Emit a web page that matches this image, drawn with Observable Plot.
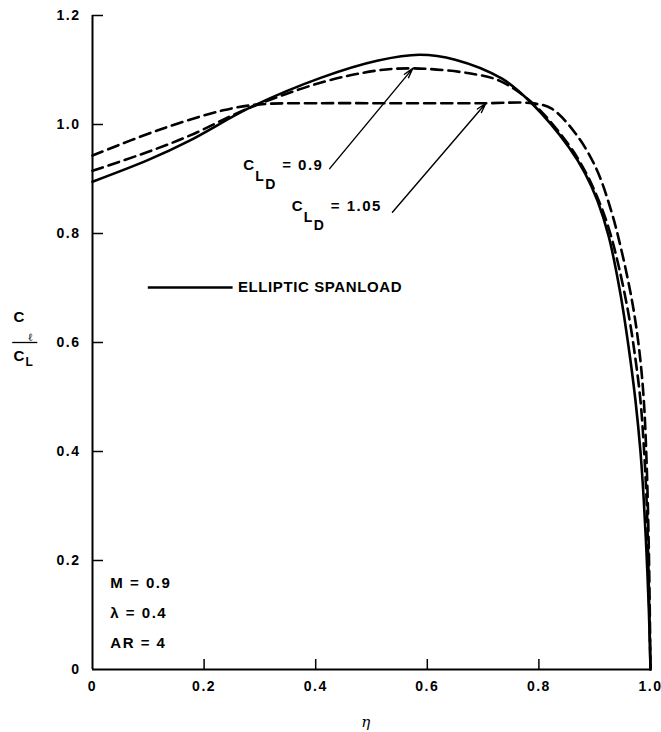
<!DOCTYPE html>
<html><head><meta charset="utf-8">
<script src="https://cdn.jsdelivr.net/npm/d3@7"></script>
<script src="https://cdn.jsdelivr.net/npm/@observablehq/plot@0.6"></script>
<style>
body{margin:0;background:#fff;}
#chart svg{display:block;}
#chart svg text{letter-spacing:1.5px;}
</style>
</head><body><div id="chart"></div>
<script>
// Elliptic spanload (solid)
const etaElliptic = [0, 0.1, 0.175, 0.282, 0.41, 0.51, 0.586, 0.65, 0.734, 0.788, 0.854, 0.883, 0.905, 0.925, 0.946, 0.961, 0.973, 0.982, 0.988, 0.993, 0.997, 1.0];
const cElliptic   = [0.895, 0.935, 0.971, 1.031, 1.086, 1.117, 1.128, 1.119, 1.084, 1.038, 0.958, 0.91, 0.86, 0.795, 0.69, 0.59, 0.494, 0.40, 0.31, 0.21, 0.11, 0];
// C_LD = 0.9 (dashed, lower)
const eta09 = [0, 0.1, 0.175, 0.28, 0.41, 0.51, 0.574, 0.675, 0.73, 0.79, 0.854, 0.885, 0.907, 0.925, 0.943, 0.961, 0.973, 0.982, 0.988, 0.993, 0.996, 0.998, 1.0];
const c09   = [0.915, 0.95, 0.98, 1.03, 1.077, 1.099, 1.103, 1.094, 1.08, 1.038, 0.962, 0.91, 0.861, 0.81, 0.74, 0.65, 0.57, 0.494, 0.41, 0.31, 0.2, 0.1, 0];
// C_LD = 1.05 (dashed, flat top)
const eta105 = [0, 0.116, 0.234, 0.3, 0.4, 0.55, 0.7, 0.788, 0.823, 0.866, 0.902, 0.93, 0.95, 0.968, 0.98, 0.988, 0.993, 0.997, 1.0];
const c105   = [0.943, 0.989, 1.026, 1.037, 1.039, 1.039, 1.039, 1.039, 1.029, 0.983, 0.921, 0.84, 0.76, 0.67, 0.585, 0.494, 0.38, 0.22, 0];

const xTicks = [0, 0.2, 0.4, 0.6, 0.8, 1.0];
const xTickLabels = ["0", "0.2", "0.4", "0.6", "0.8", "1.0"];
const yTicks = [0, 0.2, 0.4, 0.6, 0.8, 1.0, 1.2];
const yTickLabels = ["0", "0.2", "0.4", "0.6", "0.8", "1.0", "1.2"];

// annotations (data units)
const cldLabels = [
  {eta: 0.27, c: 0.917, value: "= 0.9"},
  {eta: 0.357, c: 0.842, value: "= 1.05"}
];
const arrows = [
  {x1: 0.425, y1: 0.919, x2: 0.574, y2: 1.103},
  {x1: 0.5375, y1: 0.839, x2: 0.705, y2: 1.039}
];
const legendLine = [{x1: 0.10, x2: 0.252, y: 0.701}];
const legendText = [{x: 0.2607, y: 0.701, text: "ELLIPTIC SPANLOAD"}];
const params = [
  {x: 0.032, y: 0.158, text: "M = 0.9"},
  {x: 0.032, y: 0.103, text: "λ = 0.4"},
  {x: 0.032, y: 0.048, text: "AR = 4"}
];
const fractionBar = [{x1: -0.143, x2: -0.098, y: 0.6}];

const toRows = (xs, ys) => xs.map((x, i) => ({eta: x, c: ys[i]}));
const font = "Liberation Sans, Arial, Helvetica, sans-serif";
const dash = "11,6";

const chart = Plot.plot({
  width: 661,
  height: 732,
  marginLeft: 92,
  marginRight: 11,
  marginTop: 15,
  marginBottom: 63,
  x: {domain: [0, 1]},
  y: {domain: [0, 1.2]},
  style: {fontFamily: font, fontSize: "14px", fontWeight: "bold", color: "#000", background: "#fff"},
  marks: [
    Plot.axisX(xTicks, {tickSize: 0, tickPadding: 12, label: null, fontSize: 14, fontWeight: "bold",
      tickFormat: d => xTickLabels[xTicks.indexOf(d)]}),
    Plot.axisY(yTicks, {tickSize: 0, tickPadding: 12, label: null, fontSize: 14, fontWeight: "bold",
      tickFormat: d => yTickLabels[yTicks.indexOf(d)]}),
    Plot.ruleX([0], {stroke: "#000", strokeWidth: 2}),
    Plot.ruleY([0], {stroke: "#000", strokeWidth: 2}),
    Plot.ruleX(xTicks.slice(1), {x: d => d, y1: 0, y2: 0, insetTop: -10, stroke: "#000", strokeWidth: 1.5}),
    Plot.ruleY(yTicks.slice(1), {y: d => d, x1: 0, x2: 0, insetRight: -11, stroke: "#000", strokeWidth: 1.5}),
    // curves
    Plot.line(toRows(etaElliptic, cElliptic), {x: "eta", y: "c", curve: "catmull-rom", stroke: "#000", strokeWidth: 2.6}),
    Plot.line(toRows(eta09, c09), {x: "eta", y: "c", curve: "catmull-rom", stroke: "#000", strokeWidth: 2.6, strokeDasharray: dash}),
    Plot.line(toRows(eta105, c105), {x: "eta", y: "c", curve: "catmull-rom", stroke: "#000", strokeWidth: 2.6, strokeDasharray: dash}),
    // arrows
    Plot.arrow(arrows, {x1: "x1", y1: "y1", x2: "x2", y2: "y2", stroke: "#000", strokeWidth: 1.4, headLength: 11, headAngle: 30}),
    // C_LD labels
    Plot.text(cldLabels, {x: "eta", y: "c", text: () => "C", textAnchor: "start", lineAnchor: "bottom", fontSize: 15, fontWeight: "bold"}),
    Plot.text(cldLabels, {x: "eta", y: "c", text: () => "L", dx: 12, dy: 11, textAnchor: "start", lineAnchor: "bottom", fontSize: 14, fontWeight: "bold"}),
    Plot.text(cldLabels, {x: "eta", y: "c", text: () => "D", dx: 22, dy: 19, textAnchor: "start", lineAnchor: "bottom", fontSize: 14, fontWeight: "bold"}),
    Plot.text(cldLabels, {x: "eta", y: "c", text: "value", dx: 39, textAnchor: "start", lineAnchor: "bottom", fontSize: 15, fontWeight: "bold"}),
    // legend
    Plot.ruleY(legendLine, {x1: "x1", x2: "x2", y: "y", stroke: "#000", strokeWidth: 2.6}),
    Plot.text(legendText, {x: "x", y: "y", text: "text", textAnchor: "start", fontSize: 15, fontWeight: "bold"}),
    // parameters
    Plot.text(params, {x: "x", y: "y", text: "text", textAnchor: "start", fontSize: 15, fontWeight: "bold"}),
    // y axis label  c_l / C_L
    Plot.text(["C"], {frameAnchor: "left", y: () => 0.637, text: d => d, dx: -79, textAnchor: "start", lineAnchor: "bottom", fontSize: 15, fontWeight: "bold"}),
    Plot.text(["ℓ"], {frameAnchor: "left", y: () => 0.603, text: d => d, dx: -65, textAnchor: "start", lineAnchor: "bottom", fontSize: 11, fontWeight: "normal", fontFamily: "DejaVu Serif, serif"}),
    Plot.ruleY(fractionBar, {x1: "x1", x2: "x2", y: "y", stroke: "#000", strokeWidth: 1.3}),
    Plot.text(["C"], {frameAnchor: "left", y: () => 0.566, text: d => d, dx: -79, textAnchor: "start", lineAnchor: "bottom", fontSize: 15, fontWeight: "bold"}),
    Plot.text(["L"], {frameAnchor: "left", y: () => 0.556, text: d => d, dx: -67, textAnchor: "start", lineAnchor: "bottom", fontSize: 12, fontWeight: "bold"}),
    // x axis label
    Plot.text(["η"], {frameAnchor: "bottom", text: d => d, dx: -5, dy: 57, fontSize: 15, fontWeight: "normal", fontStyle: "italic", fontFamily: "DejaVu Serif, serif"})
  ]
});
d3.select(chart).selectAll("text")
  .filter(function () { return this.textContent === legendText[0].text; })
  .style("letter-spacing", "0.6px");
document.getElementById("chart").appendChild(chart);
</script>
</body></html>
